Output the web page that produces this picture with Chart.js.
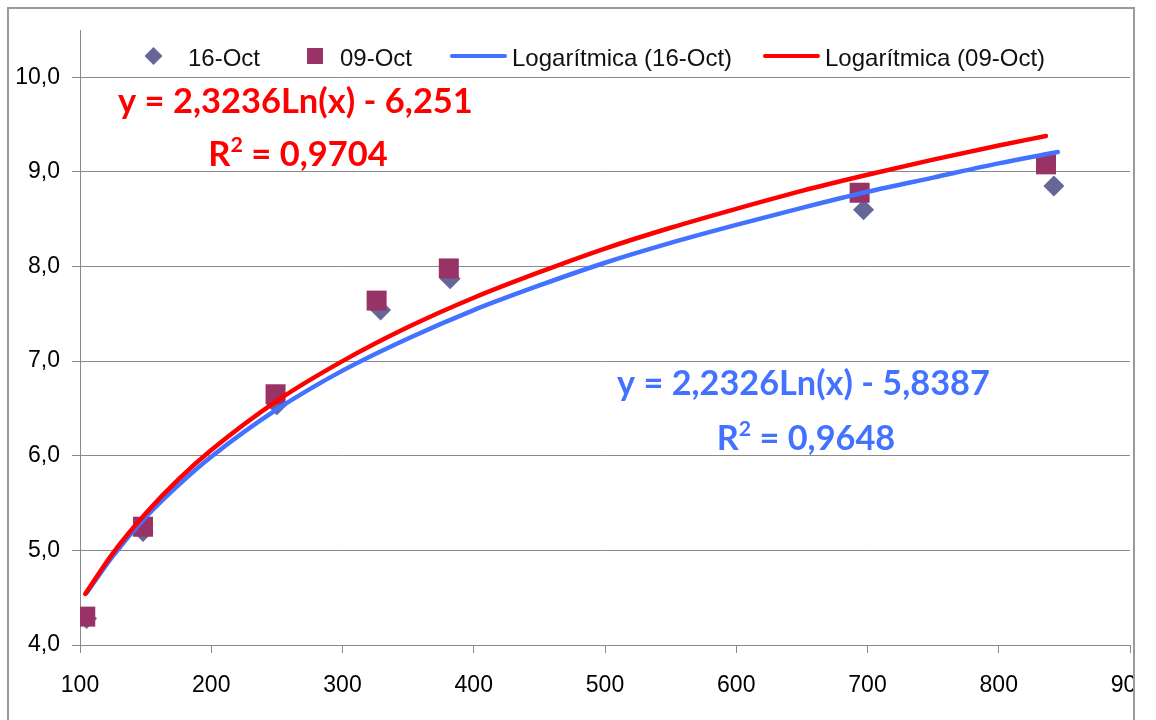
<!DOCTYPE html>
<html><head><meta charset="utf-8">
<script src="https://cdn.jsdelivr.net/npm/chart.js@4.4.0/dist/chart.umd.min.js"></script>
<style>html,body{margin:0;padding:0;background:#fff;}#wrap{width:1156px;height:720px;position:relative;}</style>
</head><body><div id="wrap"><canvas id="c" width="1156" height="720"></canvas></div>
<script>
// ---- data ----
const xTickValues = [100, 200, 300, 400, 500, 600, 700, 800, 900];
const yTickValues = [4, 5, 6, 7, 8, 9, 10];
const yTickLabels = ['4,0', '5,0', '6,0', '7,0', '8,0', '9,0', '10,0'];

const oct16Label = '16-Oct';
const oct16X = [105, 148, 250, 329, 382, 697, 842];
const oct16Y = [4.28, 5.20, 6.54, 7.54, 7.87, 8.60, 8.85];

const oct09Label = '09-Oct';
const oct09X = [104, 148, 249, 326, 381, 694, 836];
const oct09Y = [4.30, 5.25, 6.65, 7.64, 7.98, 8.78, 9.08];

const trend16Label = 'Logarítmica (16-Oct)';
const trend16X = [105, 125, 150, 175, 200, 250, 300, 350, 400, 450, 500, 550, 600, 650, 700, 750, 800, 845];
const trend16Y = [4.55, 4.94, 5.35, 5.69, 5.99, 6.49, 6.90, 7.24, 7.54, 7.80, 8.04, 8.25, 8.44, 8.62, 8.79, 8.94, 9.09, 9.21];

const trend09Label = 'Logarítmica (09-Oct)';
const trend09X = [104, 125, 150, 175, 200, 250, 300, 350, 400, 450, 500, 550, 600, 650, 700, 750, 800, 836];
const trend09Y = [4.54, 4.97, 5.39, 5.75, 6.06, 6.58, 7.00, 7.36, 7.67, 7.94, 8.19, 8.41, 8.61, 8.80, 8.97, 9.13, 9.28, 9.38];

const eq09Text = 'y = 2,3236Ln(x) - 6,251';
const r2_09Text = ' = 0,9704';
const eq16Text = 'y = 2,2326Ln(x) - 5,8387';
const r2_16Text = ' = 0,9648';

// ---- styles ----
const C_DIAMOND = '#666699';
const C_SQUARE = '#993366';
const C_BLUE = '#4272FF';
const C_RED = '#FF0000';
const C_GRID = '#8a8a8a';
const TICK_FONT = {family: '"Liberation Sans", Arial, sans-serif', size: 23};

const zip = (xs, ys) => xs.map((x, i) => ({x: x, y: ys[i]}));

function fitText(ctx, text, weight, family, targetWidth, baseSize) {
  ctx.font = weight + ' ' + baseSize + 'px ' + family;
  const w = ctx.measureText(text).width;
  return baseSize * targetWidth / w;
}

function drawEquation(ctx, eq, r2rest, color, left, right, baseline1, rCenter, baseline2) {
  const fam = 'Lato, "Open Sans", sans-serif';
  const size = fitText(ctx, eq, 'bold', fam, right - left, 32);
  ctx.save();
  ctx.fillStyle = color;
  ctx.textBaseline = 'alphabetic';
  ctx.textAlign = 'left';
  ctx.font = 'bold ' + size + 'px ' + fam;
  ctx.fillText(eq, left, baseline1);
  const big = 'bold ' + size + 'px ' + fam;
  const small = 'bold ' + (size * 0.62) + 'px ' + fam;
  ctx.font = big; const wR = ctx.measureText('R').width; const wRest = ctx.measureText(r2rest).width;
  ctx.font = small; const w2 = ctx.measureText('2').width;
  const total = wR + w2 + wRest;
  let x = rCenter - total / 2;
  ctx.font = big; ctx.fillText('R', x, baseline2); x += wR;
  ctx.font = small; ctx.fillText('2', x, baseline2 - size * 0.42); x += w2;
  ctx.font = big; ctx.fillText(r2rest, x, baseline2);
  ctx.restore();
}

const decor = {
  id: 'decor',
  afterDraw(chart) {
    const ctx = chart.ctx;
    ctx.save();
    ctx.fillStyle = '#ffffff';
    ctx.fillRect(1135, 0, 30, 720);
    ctx.strokeStyle = '#9a9a9a';
    ctx.lineWidth = 2;
    ctx.beginPath();
    ctx.moveTo(8, 730); ctx.lineTo(8, 8); ctx.lineTo(1134, 8); ctx.lineTo(1134, 730);
    ctx.stroke();

    // legend
    const ly = 56;
    const tb = 65.5;
    ctx.font = '24px "Liberation Sans", Arial, sans-serif';
    ctx.textBaseline = 'alphabetic';
    ctx.textAlign = 'left';
    ctx.fillStyle = C_DIAMOND;
    ctx.beginPath();
    ctx.moveTo(153.5 - 9, ly); ctx.lineTo(153.5, ly - 9); ctx.lineTo(153.5 + 9, ly); ctx.lineTo(153.5, ly + 9);
    ctx.closePath(); ctx.fill();
    ctx.fillStyle = '#111'; ctx.fillText(oct16Label, 188, tb);
    ctx.fillStyle = C_SQUARE;
    ctx.fillRect(307, ly - 8, 16, 16);
    ctx.fillStyle = '#111'; ctx.fillText(oct09Label, 340, tb);
    ctx.strokeStyle = C_BLUE; ctx.lineWidth = 4; ctx.lineCap = 'round';
    ctx.beginPath(); ctx.moveTo(452, ly); ctx.lineTo(505, ly); ctx.stroke();
    ctx.fillStyle = '#111'; ctx.fillText(trend16Label, 512, tb);
    ctx.strokeStyle = C_RED;
    ctx.beginPath(); ctx.moveTo(765, ly); ctx.lineTo(818, ly); ctx.stroke();
    ctx.fillStyle = '#111'; ctx.fillText(trend09Label, 825, tb);
    ctx.restore();

    drawEquation(ctx, eq09Text, r2_09Text, C_RED, 118, 473, 113, 298, 166);
    drawEquation(ctx, eq16Text, r2_16Text, C_BLUE, 617, 990, 395, 806, 450);
  }
};

new Chart(document.getElementById('c'), {
  type: 'scatter',
  data: {
    datasets: [
      {label: trend09Label, data: zip(trend09X, trend09Y), showLine: true, borderColor: C_RED, borderWidth: 4.5,
       pointRadius: 0, fill: false, cubicInterpolationMode: 'monotone', borderCapStyle: 'round', order: 0},
      {label: trend16Label, data: zip(trend16X, trend16Y), showLine: true, borderColor: C_BLUE, borderWidth: 4.5,
       pointRadius: 0, fill: false, cubicInterpolationMode: 'monotone', borderCapStyle: 'round', order: 1},
      {label: oct09Label, data: zip(oct09X, oct09Y), pointStyle: 'rect', pointRadius: 14.14,
       backgroundColor: C_SQUARE, borderWidth: 0, order: 2},
      {label: oct16Label, data: zip(oct16X, oct16Y), pointStyle: 'rectRot', pointRadius: 10.5,
       backgroundColor: C_DIAMOND, borderWidth: 0, order: 3}
    ]
  },
  options: {
    responsive: false,
    animation: false,
    devicePixelRatio: 1,
    layout: {padding: {left: 0, top: 30, right: 26, bottom: 0}},
    plugins: {legend: {display: false}, tooltip: {enabled: false}},
    scales: {
      x: {
        type: 'linear', min: 100, max: 900,
        afterBuildTicks: s => { s.ticks = xTickValues.map(v => ({value: v})); },
        afterFit: s => { s.height = 75; s.paddingLeft = 0; s.paddingRight = 0; },
        ticks: {color: '#000', font: TICK_FONT, padding: 19, maxRotation: 0, callback: v => String(v)},
        grid: {drawOnChartArea: false, drawTicks: true, tickLength: 8, color: C_GRID},
        border: {color: C_GRID, width: 1}
      },
      y: {
        type: 'linear', min: 4, max: 10.5,
        afterBuildTicks: s => { s.ticks = yTickValues.map(v => ({value: v})); },
        afterFit: s => { s.width = 80; s.paddingTop = 0; s.paddingBottom = 0; },
        ticks: {color: '#000', font: TICK_FONT, padding: 12, callback: (v, i) => yTickLabels[i]},
        grid: {color: C_GRID, tickLength: 8},
        border: {color: C_GRID, width: 1}
      }
    }
  },
  plugins: [decor]
});
</script></body></html>
